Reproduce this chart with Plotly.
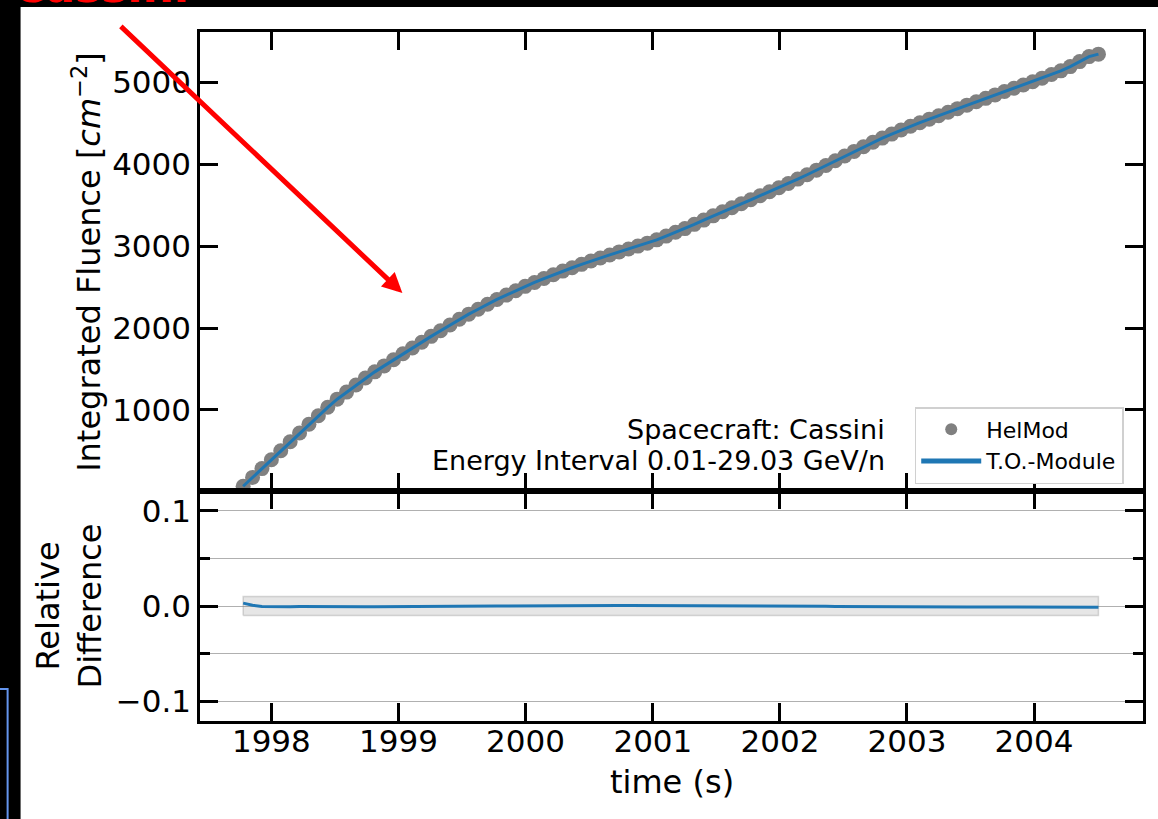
import plotly.graph_objects as go
import pandas as pd

# ---------------- data ----------------
start_date = "1997-10-12"      # first Bartels rotation shown
rotation_days = 27             # sampling step (one Bartels rotation)

fluence = [
    70, 178, 285, 393, 502, 612, 720, 826, 929, 1033,
    1132, 1218, 1304, 1390, 1465, 1538, 1612, 1685, 1756, 1827,
    1898, 1967, 2037, 2106, 2169, 2229, 2290, 2348, 2401, 2454,
    2508, 2555, 2603, 2650, 2694, 2735, 2776, 2817, 2854, 2891,
    2928, 2964, 2999, 3035, 3075, 3121, 3167, 3212, 3264, 3316,
    3368, 3417, 3466, 3515, 3564, 3613, 3661, 3710, 3763, 3816,
    3869, 3925, 3982, 4040, 4098, 4154, 4210, 4266, 4316, 4365,
    4414, 4461, 4504, 4547, 4589, 4632, 4675, 4718, 4760, 4801,
    4843, 4884, 4924, 4964, 5004, 5047, 5092, 5136, 5188, 5249,
    5310, 5340,
]

rel_diff = [
    0.0030, 0.0008, -0.0004, -0.0007, -0.0008, -0.0007, -0.0006, -0.0005, -0.0005, -0.0005,
    -0.0006, -0.0006, -0.0006, -0.0007, -0.0007, -0.0006, -0.0005, -0.0005, -0.0005, -0.0004,
    -0.0004, -0.0004, -0.0003, -0.0003, -0.0003, -0.0002, -0.0002, -0.0001, -0.0001, 0.0000,
    0.0000,
    0.0001, 0.0001, 0.0002, 0.0002, 0.0003, 0.0003, 0.0003, 0.0004, 0.0004, 0.0004,
    0.0004, 0.0004, 0.0004, 0.0004, 0.0004,
    0.0004, 0.0004, 0.0003, 0.0003, 0.0003, 0.0003, 0.0002, 0.0002, 0.0001, 0.0001,
    0.0000, 0.0000, -0.0001, -0.0001, -0.0002, -0.0003, -0.0003, -0.0004, -0.0005, -0.0005,
    -0.0006, -0.0007, -0.0007, -0.0008, -0.0008, -0.0009, -0.0009, -0.0010, -0.0010, -0.0010,
    -0.0011, -0.0011, -0.0011, -0.0011, -0.0011, -0.0011, -0.0011, -0.0011, -0.0011, -0.0011,
    -0.0011, -0.0011, -0.0011, -0.0012, -0.0012, -0.0012,
]

band_half_width = 0.01          # +/- tolerance band in relative difference

series_names = ["HelMod", "T.O.-Module"]
info_lines = ["Spacecraft: Cassini", "Energy Interval 0.01-29.03 GeV/n"]

dates = pd.date_range(start_date, periods=len(fluence), freq=f"{rotation_days}D")

# ---------------- geometry helpers (pixels -> paper) ----------------
W, H = 1158, 819
L, R, T, B = 200, 1146, 32, 721
SPLIT = 491


def px(x):
    return (x - L) / (R - L)


def py(y):
    return (B - y) / (B - T)


FONT = "DejaVu Sans"
BLUE = "#1f77b4"
GREY = "#808080"

fig = go.Figure()

fig.add_trace(go.Scatter(
    x=dates, y=fluence, mode="markers", name=series_names[0],
    marker=dict(color=GREY, size=15, line=dict(width=0)),
    xaxis="x", yaxis="y",
))
fig.add_trace(go.Scatter(
    x=dates, y=fluence, mode="lines", name=series_names[1],
    line=dict(color=BLUE, width=3),
    xaxis="x", yaxis="y",
))

d0, d1 = dates[0], dates[-1]
fig.add_trace(go.Scatter(
    x=[d0, d1, d1, d0, d0],
    y=[-band_half_width, -band_half_width, band_half_width, band_half_width, -band_half_width],
    mode="lines", fill="toself", fillcolor="rgba(128,128,128,0.2)",
    line=dict(color="rgba(128,128,128,0.3)", width=1.5),
    showlegend=False, hoverinfo="skip",
    xaxis="x2", yaxis="y2",
))
fig.add_trace(go.Scatter(
    x=dates, y=rel_diff, mode="lines", showlegend=False,
    line=dict(color=BLUE, width=3),
    xaxis="x2", yaxis="y2",
))

x_range = ["1997-06-10", "2004-11-09"]
split_frac = py(SPLIT)

common_axis = dict(
    showline=True, linecolor="black", linewidth=2.5, mirror="ticks",
    ticks="inside", ticklen=18, tickwidth=2.5, tickcolor="black",
    tickfont=dict(family=FONT, size=31, color="black"),
)

fig.update_layout(
    width=W, height=H,
    margin=dict(l=L, r=W - R, t=T, b=H - B, pad=0),
    paper_bgcolor="white", plot_bgcolor="white",
    font=dict(family=FONT, color="black"),
    xaxis=dict(domain=[0, 1], anchor="y", range=x_range, dtick="M12",
               tick0="1998-01-01", showticklabels=False, showgrid=False,
               zeroline=False, **common_axis),
    yaxis=dict(domain=[split_frac, 1], anchor="x", range=[12, 5610],
               dtick=1000, tick0=0, showgrid=False, zeroline=False, **common_axis),
    xaxis2=dict(domain=[0, 1], anchor="y2", range=x_range, dtick="M12",
                tick0="1998-01-01", tickformat="%Y", showgrid=False,
                zeroline=False, matches="x", ticklabelstandoff=-9, **common_axis),
    yaxis2=dict(domain=[0, split_frac], anchor="x2", range=[-0.121, 0.121],
                dtick=0.1, tick0=0, tickformat=".1f", showgrid=True,
                gridcolor="#b0b0b0", gridwidth=1, zeroline=False,
                minor=dict(dtick=0.05, tick0=0, ticks="inside", ticklen=10,
                           tickwidth=2.5, tickcolor="black", showgrid=True,
                           gridcolor="#b0b0b0", gridwidth=1),
                **common_axis),
    legend=dict(x=px(917), y=py(407), xanchor="left", yanchor="top",
                bgcolor="white", bordercolor="#d0d0d0", borderwidth=1.5,
                font=dict(family=FONT, size=22, color="black"),
                itemsizing="constant", itemwidth=60, tracegroupgap=0),
    showlegend=True,
)

annotations = [
    dict(x=px(889), y=py(429), xref="paper", yref="paper", text=info_lines[0],
         showarrow=False, xanchor="right", yanchor="middle",
         font=dict(family=FONT, size=27, color="black")),
    dict(x=px(889), y=py(460), xref="paper", yref="paper", text=info_lines[1],
         showarrow=False, xanchor="right", yanchor="middle",
         font=dict(family=FONT, size=27, color="black")),
    dict(x=px(86), y=py((T + SPLIT) / 2), xref="paper", yref="paper",
         text="Integrated Fluence [<i>cm</i><sup>−2</sup>]", textangle=-90,
         showarrow=False, xanchor="center", yanchor="middle",
         font=dict(family=FONT, size=32, color="black")),
    dict(x=px(69), y=py((SPLIT + B) / 2), xref="paper", yref="paper",
         text="Relative<br>Difference", textangle=-90,
         showarrow=False, xanchor="center", yanchor="middle",
         font=dict(family=FONT, size=32, color="black")),
    dict(x=px(673), y=py(782), xref="paper", yref="paper", text="time (s)",
         showarrow=False, xanchor="center", yanchor="middle",
         font=dict(family=FONT, size=32, color="black")),
    # red arrow overlay from the slide
    dict(x=px(403), y=py(293), xref="paper", yref="paper", text="",
         showarrow=True, ax=120 - 403, ay=25 - 293, axref="pixel", ayref="pixel",
         arrowcolor="#ff0000", arrowwidth=5, arrowhead=2, arrowsize=0.8),
    # cut-off red slide title (only the bottom edge of the glyphs is visible)
    dict(x=px(10), y=py(14), xref="paper", yref="paper",
         text="<b>Cassini</b>", showarrow=False,
         xanchor="left", yanchor="bottom",
         font=dict(family=FONT, size=44, color="#ff0000")),
]
fig.update_layout(annotations=annotations)

shapes = [
    dict(type="rect", xref="paper", yref="paper", x0=px(-5), x1=px(20),
         y0=py(830), y1=py(-5), fillcolor="black", line=dict(width=0), layer="above"),
    dict(type="rect", xref="paper", yref="paper", x0=px(-5), x1=px(1165),
         y0=py(7), y1=py(-5), fillcolor="black", line=dict(width=0), layer="above"),
    dict(type="rect", xref="paper", yref="paper", x0=px(-10), x1=px(7),
         y0=py(830), y1=py(689), fillcolor="rgba(0,0,0,0)",
         line=dict(color="#6495ED", width=2), layer="above"),
]
fig.update_layout(shapes=shapes)

fig.write_html("out.html")
